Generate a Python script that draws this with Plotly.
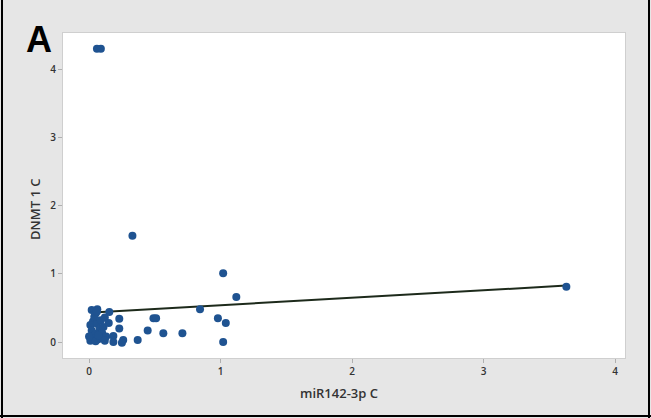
import plotly.graph_objects as go

# Observed expression values
mir142_3p = [0.06, 0.09, 0.33, 1.02, 1.12, 3.63,
             0.063, 0.154, 0.844, 0.49, 0.51, 0.98, 1.04, 0.23, 0.23,
             0.446, 0.565, 0.71, 0.37, 0.26, 0.25, 0.185, 0.185, 1.02,
             0.02, 0.05, 0.03, 0.01, 0.06, 0.09, 0.12, 0.08, 0.02, 0.05,
             0.10, 0.03, 0.07, 0.01, 0.05, 0.09, 0.11, 0.13, 0.04, 0.15,
             0.07, 0.12, 0.00, 0.06]
dnmt1 = [4.31, 4.31, 1.56, 1.01, 0.66, 0.81,
         0.48, 0.44, 0.48, 0.35, 0.35, 0.35, 0.28, 0.34, 0.20,
         0.17, 0.13, 0.13, 0.03, 0.03, -0.01, 0.09, 0.00, 0.00,
         0.47, 0.42, 0.30, 0.25, 0.27, 0.32, 0.36, 0.20, 0.17, 0.12,
         0.13, 0.06, 0.04, 0.02, 0.01, 0.06, 0.22, 0.08, 0.37, 0.28,
         0.10, 0.02, 0.08, 0.45]

# Fitted line coefficients
fit_intercept = 0.43
fit_slope = 0.11
fit_x = [0.03, 3.63]
fit_y = [fit_intercept + fit_slope * v for v in fit_x]

x_ticks = [0, 1, 2, 3, 4]
y_ticks = [0, 1, 2, 3, 4]

W, H = 651, 418
ML, MR, MT, MB = 63, 26, 33, 60
pw, ph = W - ML - MR, H - MT - MB


def px_x(p):
    """Horizontal pixel position -> paper fraction."""
    return (p - ML) / pw


def px_y(p):
    """Vertical pixel position (from top) -> paper fraction."""
    return (H - MB - p) / ph


title_font = dict(family="Open Sans", size=13, color="#333333", weight=600)

fig = go.Figure()
fig.add_trace(go.Scatter(
    x=fit_x, y=fit_y, mode="lines",
    line=dict(color="#1d2a1b", width=2), hoverinfo="skip"))
fig.add_trace(go.Scatter(
    x=mir142_3p, y=dnmt1, mode="markers",
    marker=dict(color="#1f5391", size=8, line=dict(width=0))))

axis_common = dict(
    showgrid=False, zeroline=False, showline=True, mirror=True,
    linecolor="#cfcfcf", linewidth=1, ticks="outside", ticklen=4,
    tickcolor="#b0b0b0", automargin=False,
    tickfont=dict(family="Open Sans", size=10, color="#333333", weight=600))

fig.update_layout(
    width=W, height=H, showlegend=False,
    margin=dict(l=ML, r=MR, t=MT, b=MB, autoexpand=False),
    paper_bgcolor="#e6e6e6", plot_bgcolor="#ffffff",
    xaxis=dict(range=[-0.198, 4.076], tickvals=x_ticks, **axis_common),
    yaxis=dict(range=[-0.235, 4.54], tickvals=y_ticks, **axis_common),
    annotations=[
        dict(text="<b>A</b>", xref="paper", yref="paper",
             x=px_x(39), y=px_y(40), xanchor="center", yanchor="middle",
             showarrow=False,
             font=dict(family="Liberation Sans", size=36, color="#000000")),
        dict(text="miR142-3p C", xref="paper", yref="paper",
             x=px_x(339), y=px_y(393), xanchor="center", yanchor="middle",
             showarrow=False, font=title_font),
        dict(text="DNMT 1 C", xref="paper", yref="paper",
             x=px_x(35), y=px_y(210), xanchor="center", yanchor="middle",
             textangle=-90, showarrow=False, font=title_font),
    ],
    shapes=[
        dict(type="line", xref="paper", yref="paper",
             x0=px_x(2), x1=px_x(2), y0=px_y(H), y1=px_y(0),
             line=dict(color="#000000", width=2)),
        dict(type="line", xref="paper", yref="paper",
             x0=px_x(W - 2), x1=px_x(W - 2), y0=px_y(H), y1=px_y(0),
             line=dict(color="#000000", width=2)),
        dict(type="line", xref="paper", yref="paper",
             x0=px_x(0), x1=px_x(W), y0=px_y(H - 2), y1=px_y(H - 2),
             line=dict(color="#000000", width=2)),
    ],
)

fig.write_html("out.html")
